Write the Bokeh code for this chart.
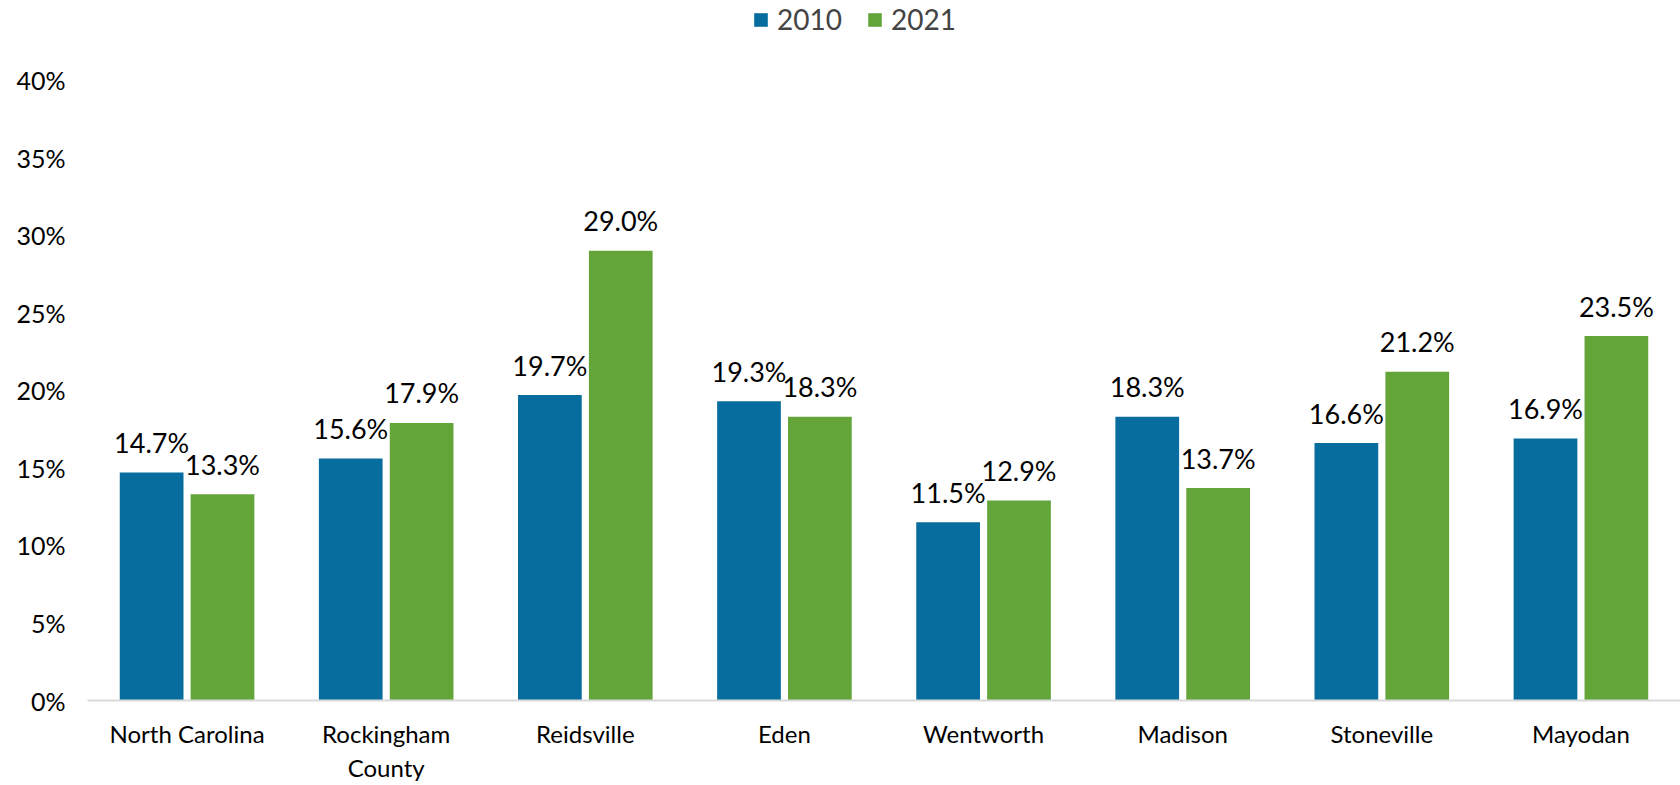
from bokeh.plotting import figure
from bokeh.models import ColumnDataSource, FactorRange, FixedTicker, PrintfTickFormatter, Range1d
from bokeh.transform import dodge
from bokeh.embed import file_html
from bokeh.resources import INLINE
from bokeh.core.properties import value

categories = ["North Carolina", "Rockingham\nCounty", "Reidsville", "Eden",
              "Wentworth", "Madison", "Stoneville", "Mayodan"]
v2010 = [14.7, 15.6, 19.7, 19.3, 11.5, 18.3, 16.6, 16.9]
v2021 = [13.3, 17.9, 29.0, 18.3, 12.9, 13.7, 21.2, 23.5]
y_ticks = [0, 5, 10, 15, 20, 25, 30, 35, 40]

BLUE = "#076C9E"
GREEN = "#64A53A"
FONT = "Lato"

src = ColumnDataSource(dict(
    cat=categories,
    v2010=v2010,
    v2021=v2021,
    l2010=[f"{v:.1f}%" for v in v2010],
    l2021=[f"{v:.1f}%" for v in v2021],
))

p = figure(width=1680, height=785, x_range=FactorRange(*categories, range_padding=0),
           y_range=Range1d(0, 45.14), output_backend="svg", toolbar_location=None,
           min_border_left=87, min_border_right=0, min_border_top=0, min_border_bottom=83)
p.outline_line_color = None
p.xgrid.grid_line_color = None
p.ygrid.grid_line_color = None
p.background_fill_color = "white"
p.border_fill_color = "white"

off = 0.178
bw = 0.32
r1 = p.vbar(x=dodge("cat", -off, range=p.x_range), top="v2010", width=bw, source=src,
            fill_color=BLUE, line_color=None, legend_label="2010")
r2 = p.vbar(x=dodge("cat", off, range=p.x_range), top="v2021", width=bw, source=src,
            fill_color=GREEN, line_color=None, legend_label="2021")

p.text(x=dodge("cat", -off, range=p.x_range), y="v2010", text="l2010", source=src,
       text_align="center", text_baseline="alphabetic", y_offset=-30,
       text_font=value(FONT), text_font_size="27px", text_color="#000000")
p.text(x=dodge("cat", off, range=p.x_range), y="v2021", text="l2021", source=src,
       text_align="center", text_baseline="alphabetic", y_offset=-30,
       text_font=value(FONT), text_font_size="27px", text_color="#000000")

# axes
p.yaxis.ticker = FixedTicker(ticks=y_ticks)
p.yaxis.formatter = PrintfTickFormatter(format="%d%%")
p.yaxis.axis_line_color = None
p.yaxis.major_tick_line_color = None
p.yaxis.minor_tick_line_color = None
p.yaxis.major_label_standoff = 16
p.yaxis.major_label_text_font = FONT
p.yaxis.major_label_text_font_size = "25px"
p.yaxis.major_label_text_color = "#000000"

p.xaxis.axis_line_color = "#D9D9D9"
p.xaxis.axis_line_width = 2
p.xaxis.major_tick_line_color = None
p.xaxis.minor_tick_line_color = None
p.xaxis.major_label_standoff = 12
p.xaxis.major_label_text_font = FONT
p.xaxis.major_label_text_font_size = "24px"
p.xaxis.major_label_text_color = "#000000"

lg = p.legend[0]
lg.location = (665, 664)
lg.orientation = "horizontal"
lg.border_line_color = None
lg.background_fill_alpha = 0
lg.glyph_width = 17
lg.glyph_height = 17
lg.label_text_font = FONT
lg.label_text_font_size = "28px"
lg.label_standoff = 8
lg.spacing = 24
lg.margin = 0
lg.padding = 4

open("out.html", "w").write(file_html(p, INLINE))
